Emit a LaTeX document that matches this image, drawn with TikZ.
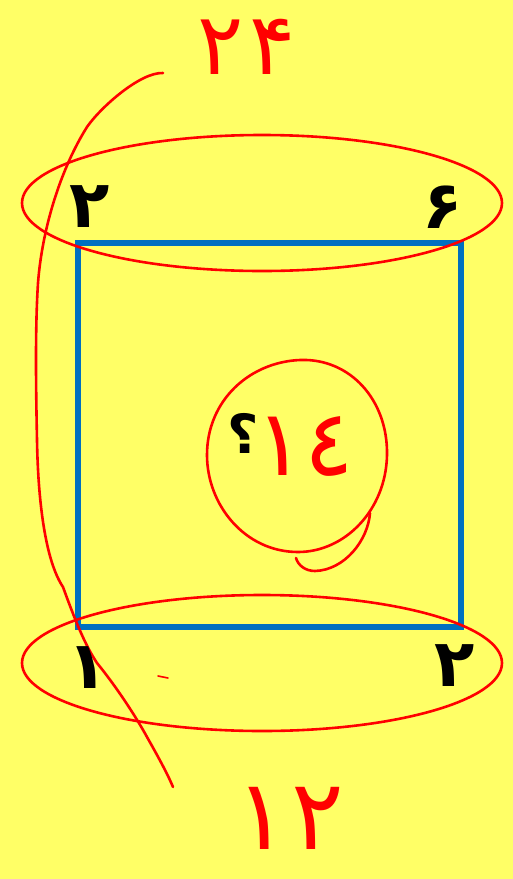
\documentclass[tikz,border=0pt]{standalone}
\usepackage{fontspec}
\newfontfamily\digfont[Script=Arabic]{DejaVu Sans}
\definecolor{bgyellow}{RGB}{255,255,102}
\definecolor{sqblue}{RGB}{0,112,192}
\definecolor{penred}{RGB}{255,0,0}
\tikzset{
  pen/.style={draw=penred, line width=2.6pt, line cap=round, line join=round},
  corner/.style={text=black, font=\digfont\bfseries\fontsize{66}{66}\selectfont, inner sep=0pt},
  hand/.style={text=penred, inner sep=0pt},
}
\begin{document}
\begin{tikzpicture}[x=1pt,y=-1pt]
\fill[bgyellow] (0,0) rectangle (513,879);
\useasboundingbox (0,0) rectangle (513,879);
% blue square
\draw[sqblue, line width=5.5pt] (78,243) rectangle (461,627);
% ellipses
\draw[pen] (262,203) ellipse [x radius=240, y radius=68];
\draw[pen] (262,663) ellipse [x radius=240, y radius=68];
% left long curve
\draw[pen] (163,73) .. controls (140,72) and (100,108) .. (87,127)
  .. controls (60,170) and (42,230) .. (38,283)
  .. controls (35,330) and (36,390) .. (37,440)
  .. controls (38,500) and (45,560) .. (63,587)
  .. controls (75,620) and (85,645) .. (97,663)
  .. controls (115,685) and (135,715) .. (147,737)
  .. controls (160,760) and (168,775) .. (173,787);
% small dash
\draw[pen, line width=1.6pt] (158,676) -- (168,678);
% central circle with tail
\draw[pen] (300,360) .. controls (350,358) and (388,400) .. (387,455)
  .. controls (386,510) and (345,552) .. (298,552)
  .. controls (245,552) and (207,505) .. (207,455)
  .. controls (207,400) and (250,362) .. (300,360);
\draw[pen] (370,513) .. controls (368,540) and (345,570) .. (315,571)
  .. controls (305,571) and (298,565) .. (296,558);
% corner numerals
\node[corner] (tl) at (90,207) {۲};
\node[corner] (tr) at (443,207) {۶};
\node[corner] (bl) at (88,668) {۱};
\node[corner] (br) at (455,666) {۲};
% question mark
\node[text=black, font=\digfont\bfseries\fontsize{54}{54}\selectfont, inner sep=0pt] (q) at (243,433) {؟};
% handwritten numbers
\node[hand, font=\digfont\fontsize{86}{86}\selectfont] (top) at (247,47) {۲\kern6pt۴};
\node[hand, font=\digfont\fontsize{92}{92}\selectfont] (ctr) at (305,446) {١٤};
\node[hand, font=\digfont\fontsize{98}{98}\selectfont] (bot) at (290,818) {۱\kern4pt۲};
\end{tikzpicture}
\end{document}
